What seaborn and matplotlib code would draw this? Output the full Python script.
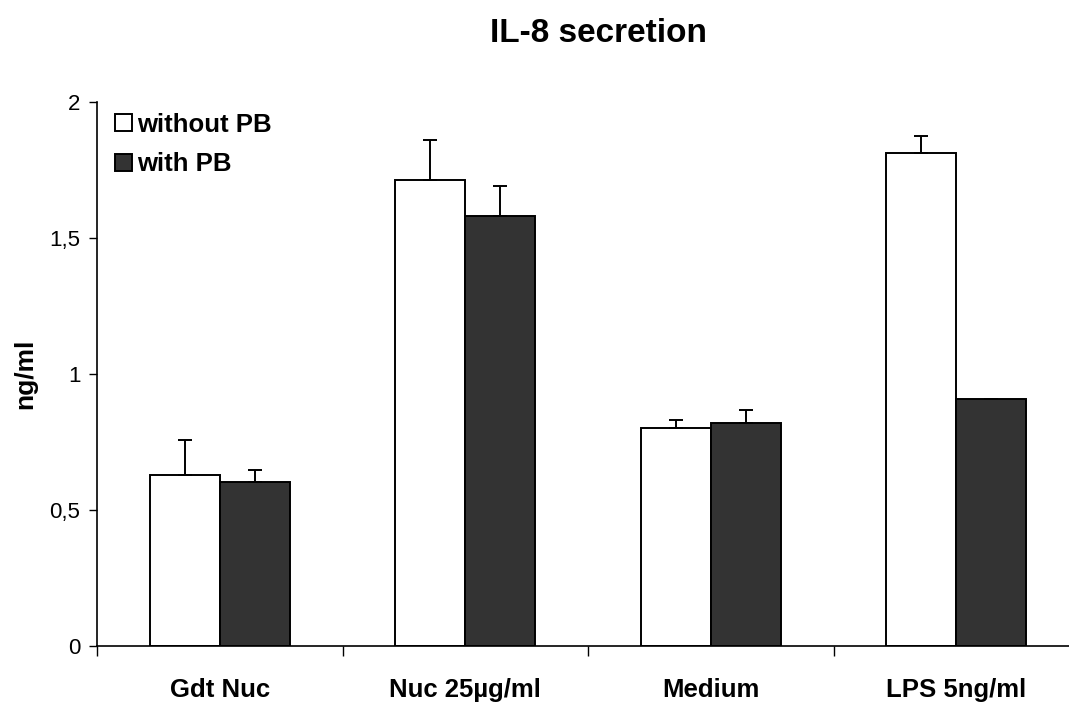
import matplotlib
matplotlib.use("Agg")
import matplotlib.pyplot as plt
import seaborn as sns
import pandas as pd
import numpy as np

# IL-8 secretion (ng/ml) per stimulation, without / with polymyxin B
conditions = ["Gdt Nuc", "Nuc 25µg/ml", "Medium", "LPS 5ng/ml"]
groups = ["without PB", "with PB"]
without_pb = [0.629, 1.713, 0.800, 1.811]
with_pb = [0.603, 1.580, 0.821, 0.908]
err_without_pb = [0.128, 0.147, 0.031, 0.064]
err_with_pb = [0.044, 0.111, 0.047, 0.0]
yticks = [0, 0.5, 1, 1.5, 2]
ytick_labels = ["0", "0,5", "1", "1,5", "2"]

df = pd.DataFrame({
    "condition": conditions * 2,
    "group": [groups[0]] * 4 + [groups[1]] * 4,
    "value": without_pb + with_pb,
})
errors = {groups[0]: err_without_pb, groups[1]: err_with_pb}

sns.set_theme(style="ticks")
plt.rcParams["font.family"] = ["Liberation Sans", "DejaVu Sans"]
for key in ["text.color", "axes.labelcolor", "xtick.color", "ytick.color",
            "axes.edgecolor"]:
    plt.rcParams[key] = "black"

W, H = 1069, 702
fig = plt.figure(figsize=(W / 100, H / 100), dpi=100)
ax = fig.add_axes([97 / W, (H - 646) / H, (1079 - 97) / W, (646 - 102) / H])

sns.barplot(
    data=df, x="condition", y="value", hue="group", order=conditions,
    hue_order=groups, palette={groups[0]: "white", groups[1]: "#333333"},
    edgecolor="black", linewidth=1.4, width=0.57, errorbar=None,
    saturation=1, ax=ax,
)

# upper error bars only, placed on the bars seaborn drew
for container, g in zip(ax.containers, groups):
    xs = [p.get_x() + p.get_width() / 2 for p in container]
    ys = [p.get_height() for p in container]
    ax.errorbar(xs, ys, yerr=[np.zeros(len(ys)), errors[g]], fmt="none",
                ecolor="black", elinewidth=1.4, capsize=5, capthick=1.4,
                zorder=1)

ax.set_ylim(0, 2)
ax.set_xlim(-0.5, 3.5)
ax.set_yticks(yticks)
ax.set_yticklabels(ytick_labels, fontsize=16)
ax.tick_params(axis="y", direction="out", length=6, width=1, pad=6)

# category boundaries carry the tick marks, centres carry the labels
ax.set_xticks(np.arange(-0.5, 4.0, 1.0))
ax.set_xticklabels([])
ax.tick_params(axis="x", which="major", direction="out", length=7, width=1)
ax.set_xticks(np.arange(len(conditions)), minor=True)
ax.set_xticklabels(conditions, minor=True, fontsize=18.5, fontweight="bold")
ax.tick_params(axis="x", which="minor", length=0, pad=23)

ax.set_xlabel("")
ax.set_ylabel("ng/ml", fontsize=19, fontweight="bold", labelpad=9)
for s in ["top", "right"]:
    ax.spines[s].set_visible(False)
for s in ["left", "bottom"]:
    ax.spines[s].set_linewidth(1.2)

handles = list(ax.containers[:2])
ax.legend(handles=[h.patches[0] for h in handles], labels=groups,
          loc="upper left", bbox_to_anchor=(0.008, 0.999), frameon=False,
          prop={"weight": "bold", "size": 18.5}, handlelength=0.66,
          handleheight=0.66, handletextpad=0.2, labelspacing=0.6,
          borderaxespad=0.0)

fig.text(598 / W, 1 - 33 / H, "IL-8 secretion", ha="center", va="center",
         fontsize=24, fontweight="bold")

fig.savefig("out.png", dpi=100)
